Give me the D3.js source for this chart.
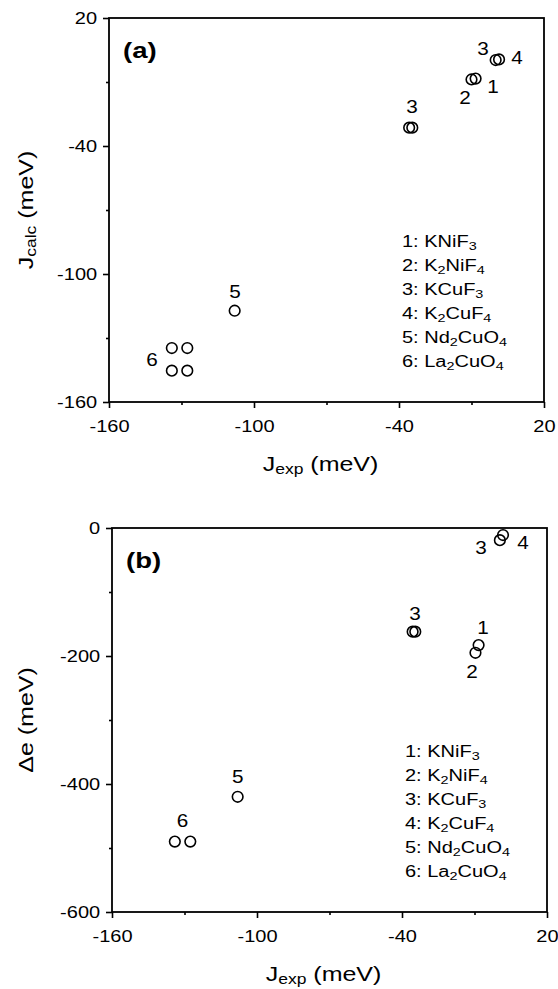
<!DOCTYPE html>
<html>
<head>
<meta charset="utf-8">
<script src="https://cdn.jsdelivr.net/npm/d3@7"></script>
<style>
  body { margin: 0; background: #fff; }
  text { font-family: "Liberation Sans", Arial, Helvetica, sans-serif; fill: #000; }
</style>
</head>
<body>
<script>
// values (meV)
// panel (a): J calc vs J exp
var aJexp  = [-8.3, -10.0, -34.5, -35.8, 0.0, 1.4, -108, -134, -127.6, -134, -127.6];
var aJcalc = [-8.4, -8.8, -31.4, -31.4, 0.3, 0.6, -117.2, -134.7, -134.7, -145.3, -145.3];
// number labels next to the points (data units)
var aLabText = ["3", "2", "1", "3", "4", "5", "6"];
var aLabX    = [-34.6, -12.7, -1.1, -5.2, 8.8, -107.9, -142.2];
var aLabY    = [-21.7, -17.5, -11.9, 5.9, 1.7, -108, -140.3];

// panel (b): delta e vs J exp
var bJexp = [-8.3, -9.6, -34.5, -35.6, 0.5, 1.8, -108, -134, -127.6];
var bDe   = [-183, -195, -162, -162, -19, -11, -420, -490, -490];
var bLabText = ["3", "1", "2", "3", "4", "5", "6"];
var bLabX    = [-34.6, -6.5, -11, -7.3, 10.1, -108, -130.8];
var bLabY    = [-133, -156, -225, -31, -22, -389, -457];

var xTicks = [-160, -100, -40, 20];
var xMinor = [-130, -70, -10];
var aTicks = [-160, -100, -40, 20];
var aMinor = [-130, -70, -10];
var bTicks = [-600, -400, -200, 0];
var bMinor = [-500, -300, -100];

var legend = ["1: KNiF_3", "2: K_2NiF_4", "3: KCuF_3", "4: K_2CuF_4", "5: Nd_2CuO_4", "6: La_2CuO_4"];

var svg = d3.select("body").append("svg")
    .attr("width", 558)
    .attr("height", 989);

var SX = 1.25; // the scanned lettering is wide, stretch it a bit

// text with subscripts: "_3" -> subscript 3
function richText(sel, str, sub) {
  var parts = str.split(/(_\d)/).filter(function(p) { return p.length; });
  var down = false;
  parts.forEach(function(p) {
    if (p[0] == "_") {
      sel.append("tspan").attr("font-size", "72%").attr("dy", sub).text(p.slice(1));
      down = true;
    } else {
      var t = sel.append("tspan").text(p);
      if (down) { t.attr("dy", -sub); down = false; }
    }
  });
}

function panel(o) {
  var w = o.right - o.left, h = o.bottom - o.top;
  var x = d3.scaleLinear().domain([-160, 20]).range([0, w]);
  var y = d3.scaleLinear().domain(o.yDomain).range([h, 0]);

  var g = svg.append("g").attr("transform", "translate(" + o.left + "," + o.top + ")");

  // minor ticks
  g.append("g").attr("transform", "translate(0," + h + ")")
    .call(d3.axisBottom(x).tickValues(xMinor).tickSize(3).tickFormat(""))
    .call(function(a) { a.select(".domain").remove(); });
  g.append("g")
    .call(d3.axisLeft(y).tickValues(o.yMinor).tickSize(3).tickFormat(""))
    .call(function(a) { a.select(".domain").remove(); });

  // major ticks
  var xa = g.append("g").attr("transform", "translate(0," + h + ")")
    .call(d3.axisBottom(x).tickValues(xTicks).tickSize(6).tickFormat(function(d) { return String(d); }));
  xa.select(".domain").remove();
  xa.selectAll("text").attr("font-size", 16).attr("y", 19).attr("transform", "scale(" + SX + ",1)");

  var ya = g.append("g")
    .call(d3.axisLeft(y).tickValues(o.yTicks).tickSize(6).tickFormat(function(d) { return String(d); }));
  ya.select(".domain").remove();
  ya.selectAll("text").attr("font-size", 16).attr("x", -9.5).attr("transform", "scale(" + SX + ",1)");

  g.selectAll(".tick line").attr("stroke", "#000").attr("stroke-width", 1.6);

  // frame
  g.append("rect")
    .attr("width", w).attr("height", h)
    .attr("fill", "none").attr("stroke", "#000").attr("stroke-width", 1.8);

  // points
  g.selectAll("circle.pt")
    .data(o.xs)
    .enter().append("circle")
      .attr("class", "pt")
      .attr("cx", function(d) { return x(d); })
      .attr("cy", function(d, i) { return y(o.ys[i]); })
      .attr("r", 5.3)
      .attr("fill", "none")
      .attr("stroke", "#000")
      .attr("stroke-width", 1.6);

  // point numbers
  g.selectAll("text.num")
    .data(o.labText)
    .enter().append("text")
      .attr("class", "num")
      .attr("transform", function(d, i) {
        return "translate(" + x(o.labX[i]) + "," + y(o.labY[i]) + ") scale(1.15,1)";
      })
      .attr("text-anchor", "middle")
      .attr("dominant-baseline", "central")
      .attr("font-size", 18)
      .text(function(d) { return d; });

  // panel tag
  g.append("text")
    .attr("transform", "translate(14,40) scale(" + SX + ",1)")
    .attr("font-size", 22)
    .attr("font-weight", "bold")
    .text(o.tag);

  // legend
  legend.forEach(function(s, i) {
    var t = g.append("text")
      .attr("transform", "translate(293," + (h - 35 - (5 - i) * 24) + ") scale(" + SX + ",1)")
      .attr("font-size", 16);
    richText(t, s, 3);
  });

  // x title
  var xt = g.append("text")
    .attr("transform", "translate(" + (w / 2 - 6) + "," + (h + 69) + ") scale(" + SX + ",1)")
    .attr("text-anchor", "middle")
    .attr("font-size", 20);
  xt.append("tspan").text("J");
  xt.append("tspan").attr("font-size", "70%").attr("dy", 3).text("exp");
  xt.append("tspan").attr("dy", -3).text(" (meV)");

  // y title
  var yt = g.append("text")
    .attr("transform", "translate(" + (33 - o.left) + "," + (h / 2) + ") rotate(-90) scale(" + SX + ",1)")
    .attr("text-anchor", "middle")
    .attr("font-size", 20);
  o.yTitle(yt);
}

panel({
  left: 109, right: 544, top: 18, bottom: 402,
  yDomain: [-160, 20], yTicks: aTicks, yMinor: aMinor,
  xs: aJexp, ys: aJcalc,
  labText: aLabText, labX: aLabX, labY: aLabY,
  tag: "(a)",
  yTitle: function(t) {
    t.append("tspan").text("J");
    t.append("tspan").attr("font-size", "70%").attr("dy", 3).text("calc");
    t.append("tspan").attr("dy", -3).text(" (meV)");
  }
});

panel({
  left: 112, right: 547, top: 528, bottom: 912,
  yDomain: [-600, 0], yTicks: bTicks, yMinor: bMinor,
  xs: bJexp, ys: bDe,
  labText: bLabText, labX: bLabX, labY: bLabY,
  tag: "(b)",
  yTitle: function(t) {
    t.text("\u0394e (meV)");
  }
});
</script>
</body>
</html>
